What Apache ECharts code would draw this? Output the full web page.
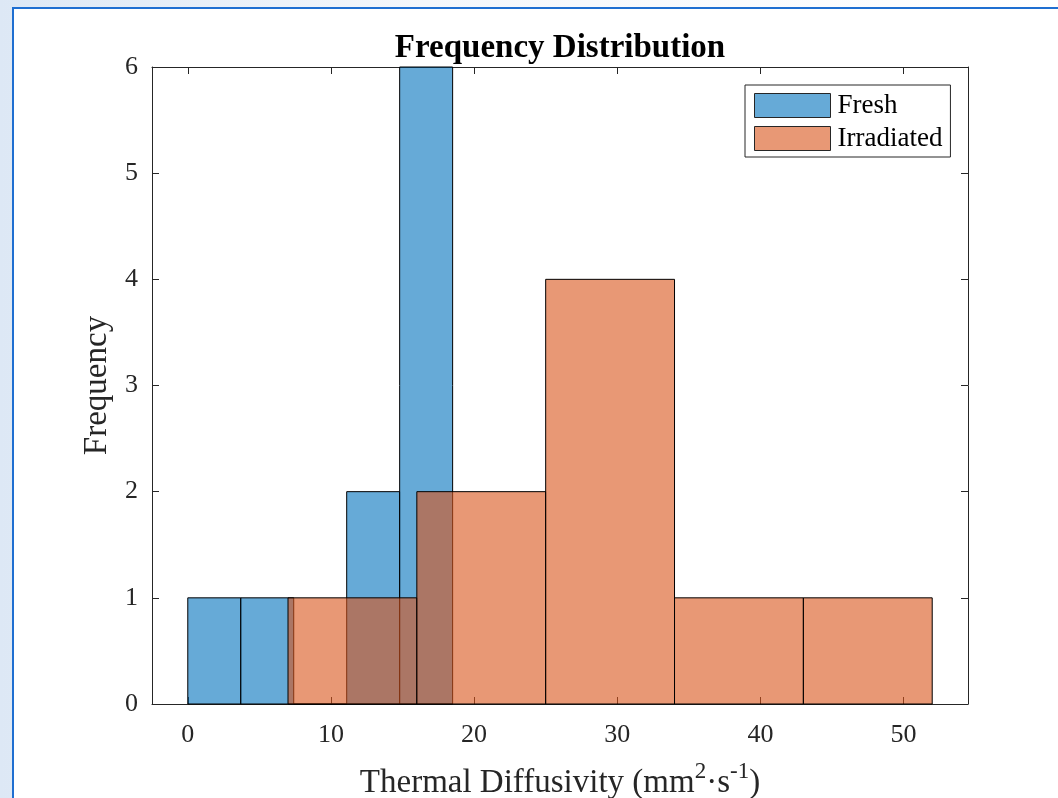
<!DOCTYPE html>
<html>
<head>
<meta charset="utf-8">
<style>
  html, body { margin: 0; padding: 0; width: 1058px; height: 798px; overflow: hidden; }
  body { background: linear-gradient(90deg, #dde8f5 0%, #f4f7fb 40%, #ffffff 100%); position: relative; }
  #frame { position: absolute; left: 12px; top: 7px; right: 0; bottom: 0; background: #fff;
           border-top: 2px solid #1f6fd1; border-left: 2px solid #1f6fd1; }
  #chart { position: absolute; left: 0; top: 0; width: 1058px; height: 798px; }
</style>
<script src="https://cdn.jsdelivr.net/npm/echarts@6/dist/echarts.min.js"></script>
</head>
<body>
<div id="frame"></div>
<div id="chart"></div>
<script>
var freshEdges = [0, 3.7, 7.4, 11.1, 14.8, 18.5];
var freshCounts = [1, 1, 0, 2, 6];
var irrEdges = [7, 16, 25, 34, 43, 52];
var irrCounts = [1, 2, 4, 1, 1];
var xTicks = [0, 10, 20, 30, 40, 50];

var ink = '#262626';
var font = '"Liberation Serif", "Times New Roman", serif';

function bins(edges, counts) {
  var out = [];
  for (var i = 0; i < counts.length; i++) out.push([edges[i], edges[i + 1], counts[i]]);
  return out;
}

function renderBin(fill) {
  return function(params, api) {
    var p0 = api.coord([api.value(0), api.value(2)]);
    var p1 = api.coord([api.value(1), 0]);
    return {
      type: 'rect',
      shape: { x: p0[0], y: p0[1], width: p1[0] - p0[0], height: p1[1] - p0[1] },
      style: { fill: fill, stroke: '#000', lineWidth: 1 }
    };
  };
}

var blue = 'rgba(0,114,189,0.6)';
var orange = 'rgba(217,83,25,0.6)';

var chart = echarts.init(document.getElementById('chart'), null, { renderer: 'canvas' });
var xBase = {
  type: 'value', min: -2.5, max: 54.5,
  axisLine: { onZero: false, lineStyle: { color: ink, width: 1 } },
  axisTick: { inside: true, length: 7, lineStyle: { color: ink }, customValues: xTicks },
  splitLine: { show: false }
};
var yBase = {
  type: 'value', min: 0, max: 6, interval: 1,
  axisLine: { show: true, onZero: false, lineStyle: { color: ink, width: 1 } },
  axisTick: { show: true, inside: true, length: 7, lineStyle: { color: ink } },
  splitLine: { show: false }
};

chart.setOption({
  animation: false,
  textStyle: { fontFamily: font },
  title: {
    text: 'Frequency Distribution', left: 555, top: 27, textAlign: 'center',
    textStyle: { fontFamily: font, fontSize: 33, fontWeight: 'bold', color: '#000' }
  },
  legend: {
    left: 745, top: 85, orient: 'vertical',
    padding: [7, 8, 5, 9], itemGap: 6, itemWidth: 76, itemHeight: 24,
    borderColor: ink, borderWidth: 1, backgroundColor: '#fff',
    textStyle: { fontFamily: font, fontSize: 27, lineHeight: 24, color: '#000', padding: [0, 0, 0, 2] },
    data: [
      { name: 'Fresh', icon: 'rect', itemStyle: { color: '#66aad7', borderColor: ink, borderWidth: 1 } },
      { name: 'Irradiated', icon: 'rect', itemStyle: { color: '#e89875', borderColor: ink, borderWidth: 1 } }
    ]
  },
  grid: { left: 152, right: 90, top: 67, bottom: 94, outerBoundsMode: 'none' },
  xAxis: [
    Object.assign({}, xBase, {
      position: 'bottom',
      name: '{a|Thermal Diffusivity (mm}{s|2}{a|·s}{s|-1}{a|)}',
      nameLocation: 'middle', nameGap: 56,
      nameTextStyle: {
        rich: {
          a: { fontFamily: font, fontSize: 33, color: ink, lineHeight: 40, verticalAlign: 'bottom' },
          s: { fontFamily: font, fontSize: 23, color: ink, lineHeight: 40, verticalAlign: 'top' }
        }
      },
      axisLabel: { color: ink, fontSize: 26, fontFamily: font, margin: 18, customValues: xTicks }
    }),
    Object.assign({}, xBase, { position: 'top', axisLabel: { show: false } })
  ],
  yAxis: [
    Object.assign({}, yBase, {
      position: 'left',
      name: 'Frequency', nameLocation: 'middle', nameGap: 36,
      nameTextStyle: { fontFamily: font, fontSize: 33, color: ink },
      axisLabel: { color: ink, fontSize: 26, fontFamily: font, margin: 14 }
    }),
    Object.assign({}, yBase, { position: 'right', axisLabel: { show: false } })
  ],
  series: [
    {
      name: 'Fresh', type: 'custom', renderItem: renderBin(blue),
      itemStyle: { color: blue },
      encode: { x: [0, 1], y: 2 },
      data: bins(freshEdges, freshCounts)
    },
    {
      name: 'Irradiated', type: 'custom', renderItem: renderBin(orange),
      itemStyle: { color: orange },
      encode: { x: [0, 1], y: 2 },
      data: bins(irrEdges, irrCounts)
    }
  ]
});
</script>
</body>
</html>
